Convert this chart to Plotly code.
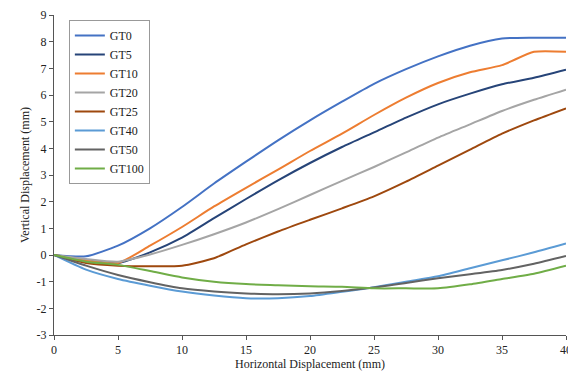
import plotly.graph_objects as go

X = [0, 2.5, 5, 7.5, 10, 12.5, 15, 17.5, 20, 22.5, 25, 27.5, 30, 32.5, 35, 37.5, 40]

GT0 = [0, -0.05, 0.35, 1.0, 1.8, 2.68, 3.5, 4.3, 5.05, 5.75, 6.42, 6.97, 7.45, 7.85, 8.12, 8.15, 8.15]
GT5 = [0, -0.2, -0.3, 0.1, 0.65, 1.38, 2.1, 2.8, 3.45, 4.05, 4.6, 5.15, 5.65, 6.05, 6.4, 6.65, 6.95]
GT10 = [0, -0.2, -0.3, 0.35, 1.05, 1.82, 2.52, 3.2, 3.9, 4.55, 5.25, 5.9, 6.45, 6.85, 7.12, 7.62, 7.62]
GT20 = [0, -0.15, -0.25, 0.02, 0.38, 0.78, 1.22, 1.72, 2.25, 2.78, 3.3, 3.85, 4.4, 4.9, 5.4, 5.82, 6.2]
GT25 = [0, -0.3, -0.4, -0.42, -0.4, -0.12, 0.4, 0.88, 1.32, 1.75, 2.2, 2.75, 3.35, 3.95, 4.55, 5.05, 5.5]
GT40 = [0, -0.55, -0.9, -1.15, -1.37, -1.52, -1.62, -1.62, -1.54, -1.38, -1.21, -1.0, -0.8, -0.5, -0.2, 0.1, 0.43]
GT50 = [0, -0.4, -0.75, -1.02, -1.25, -1.37, -1.44, -1.47, -1.44, -1.35, -1.22, -1.05, -0.87, -0.72, -0.56, -0.33, -0.04]
GT100 = [0, -0.25, -0.37, -0.6, -0.84, -1.0, -1.09, -1.13, -1.17, -1.19, -1.25, -1.25, -1.25, -1.1, -0.9, -0.7, -0.4]

SERIES = [
    ("GT0", GT0, "#4472C4"),
    ("GT5", GT5, "#264478"),
    ("GT10", GT10, "#ED7D31"),
    ("GT20", GT20, "#A5A5A5"),
    ("GT25", GT25, "#9E480E"),
    ("GT40", GT40, "#5B9BD5"),
    ("GT50", GT50, "#636363"),
    ("GT100", GT100, "#70AD47"),
]

X_TICKS = [0, 5, 10, 15, 20, 25, 30, 35, 40]
Y_TICKS = [-3, -2, -1, 0, 1, 2, 3, 4, 5, 6, 7, 8, 9]
Y_TICK_TEXT = ["-3", "-2", "-1", "0", "1", "2", "3", "4", "5", "6", "7", "8", "9"]

fig = go.Figure()
for name, ys, color in SERIES:
    fig.add_trace(go.Scatter(x=X, y=ys, mode="lines", name=name,
                             line=dict(color=color, width=2, shape="spline", smoothing=0.6)))

font = "Liberation Serif, Times New Roman, serif"
# page body adds an 8px offset, so the figure is sized 568x367
fig.update_layout(
    width=568, height=367,
    margin=dict(l=46, r=10, t=7, b=40, autoexpand=False),
    paper_bgcolor="white", plot_bgcolor="white",
    font=dict(family=font, size=12, color="#222"),
    legend=dict(x=0.029, y=0.984, xanchor="left", yanchor="top",
                bordercolor="#999", borderwidth=1, bgcolor="white",
                font=dict(family=font, size=12), tracegroupgap=0,
                itemwidth=30),
    showlegend=True,
)
fig.update_xaxes(range=[0, 40], tickvals=X_TICKS, showgrid=False, zeroline=False,
                 showline=True, linecolor="#555", linewidth=1, automargin=False,
                 ticks="outside", ticklen=4, tickcolor="#555",
                 title=dict(text="Horizontal Displacement (mm)", standoff=2,
                            font=dict(family=font, size=12)))
fig.update_yaxes(range=[-3, 9], tickvals=Y_TICKS, ticktext=Y_TICK_TEXT,
                 showgrid=False, zeroline=False, automargin=False,
                 showline=True, linecolor="#555", linewidth=1,
                 ticks="outside", ticklen=4, tickcolor="#555",
                 title=dict(text="Vertical Displacement (mm)", standoff=4,
                            font=dict(family=font, size=12)))

fig.write_html("out.html")
